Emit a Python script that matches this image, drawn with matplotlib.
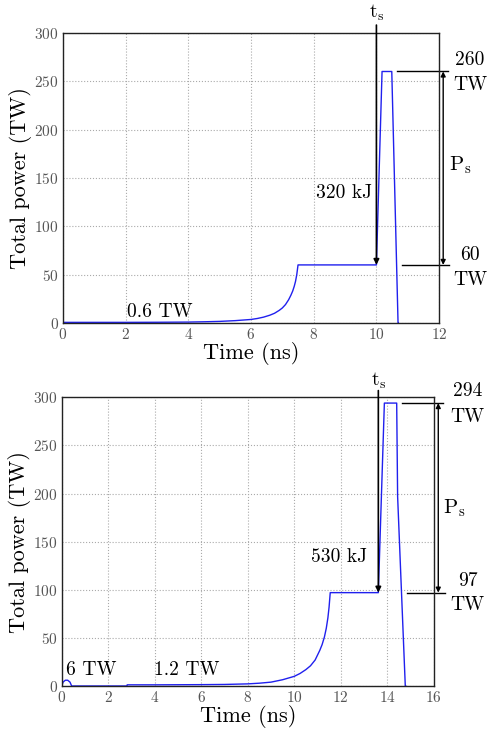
import matplotlib
matplotlib.use("Agg")
import matplotlib.pyplot as plt

plt.rcParams['font.family'] = 'serif'
plt.rcParams['font.serif'] = ['cmr10']
plt.rcParams['mathtext.fontset'] = 'cm'
plt.rcParams['axes.unicode_minus'] = False
plt.rcParams['axes.formatter.use_mathtext'] = True

# Panel (a)
t_a = [0, 1, 2, 3, 4, 4.5, 5, 5.25, 5.5, 5.75, 6, 6.2, 6.4, 6.6, 6.75, 6.9, 7.0, 7.1, 7.2,
       7.27, 7.33, 7.38, 7.42, 7.46, 7.5,
       10.0, 10.18, 10.49, 10.69, 10.7]
p_a = [0.6, 0.6, 0.6, 0.7, 0.9, 1.2, 1.6, 2.0, 2.4, 3.0, 3.6, 4.6, 6.0, 8.0, 10.0, 13.0, 15.5, 19, 24,
       28.5, 33, 38, 43, 50, 60,
       60, 260, 260, 0, 0]

# Panel (b)
t_b = [0, 0.05, 0.15, 0.25, 0.35, 0.42, 2.8, 2.81, 4, 5, 6, 7, 7.5, 8, 8.5, 9, 9.5, 10, 10.25,
       10.5, 10.7, 10.9, 11.0, 11.1, 11.2, 11.3, 11.38, 11.45, 11.5, 11.55,
       13.62, 13.88, 14.41, 14.45, 14.78, 14.8]
p_b = [0, 4, 6, 6, 4, 0, 0, 1.2, 1.2, 1.3, 1.4, 1.6, 1.9, 2.2, 2.9, 4, 6.5, 10, 13,
       17, 21, 27, 32, 37, 43, 51, 60, 71, 82, 97,
       97, 294, 294, 197, 0, 0]

fig = plt.figure(figsize=(4.99, 7.29), dpi=100)

def setup(ax, xmax):
    ax.set_xlim(0, xmax)
    ax.set_ylim(0, 300)
    ax.set_xticks(range(0, xmax + 1, 2))
    ax.set_yticks(range(0, 301, 50))
    ax.grid(True, linestyle=':', color='#aaaaaa', linewidth=0.8)
    ax.tick_params(direction='in', length=0, labelsize=11, colors='#555555', pad=3)
    for s in ax.spines.values():
        s.set_linewidth(1.0)
        s.set_color('#222222')
    ax.set_xlabel('Time (ns)', fontsize=16, labelpad=0)
    ax.set_ylabel('Total power (TW)', fontsize=16, labelpad=2)

def annot(ax, ts, plow, phigh, x1h, x2h, x1l, x2l, xarr, xtxt, ytxt_hi, ytxt_lo, xps, yps, yts, yarr):
    ax.annotate('', xy=(ts, plow), xytext=(ts, yarr), xycoords='data',
                arrowprops=dict(arrowstyle='-|>', color='black', lw=1.2, mutation_scale=8,
                                shrinkA=0, shrinkB=0), annotation_clip=False)
    ax.text(ts, yts, r'$\mathrm{t_s}$', ha='center', va='center', fontsize=14, clip_on=False)
    ax.plot([x1h, x2h], [phigh, phigh], color='black', lw=1.0, clip_on=False)
    ax.plot([x1l, x2l], [plow, plow], color='black', lw=1.0, clip_on=False)
    ax.annotate('', xy=(xarr, phigh), xytext=(xarr, plow),
                arrowprops=dict(arrowstyle='<|-|>', color='black', lw=1.0, mutation_scale=7,
                                shrinkA=0, shrinkB=0), annotation_clip=False)
    ax.text(xtxt, ytxt_hi[0], '%d' % phigh, ha='center', va='center', fontsize=14, clip_on=False)
    ax.text(xtxt, ytxt_hi[1], 'TW', ha='center', va='center', fontsize=14, clip_on=False)
    ax.text(xtxt, ytxt_lo[0], '%d' % plow, ha='center', va='center', fontsize=14, clip_on=False)
    ax.text(xtxt, ytxt_lo[1], 'TW', ha='center', va='center', fontsize=14, clip_on=False)
    ax.text(xps, yps, r'$\mathrm{P_s}$', ha='center', va='center', fontsize=15, clip_on=False)

ax1 = fig.add_axes([0.126, 0.557, 0.754, 0.398])
ax1.plot(t_a, p_a, color='#2020ee', lw=1.0)
setup(ax1, 12)
ax1.text(9.85, 134, '320 kJ', ha='right', va='center', fontsize=14)
ax1.text(2.05, 11, '0.6 TW', ha='left', va='center', fontsize=14)
annot(ax1, 10.0, 60, 260, 10.66, 12.29, 10.82, 12.32, 12.13, 12.99,
      (272, 246), (70, 44), 12.67, 163, 321, 308)

ax2 = fig.add_axes([0.124, 0.059, 0.745, 0.396])
ax2.plot(t_b, p_b, color='#2020ee', lw=1.0)
setup(ax2, 16)
ax2.text(13.12, 134, '530 kJ', ha='right', va='center', fontsize=14)
ax2.text(0.17, 16.5, '6 TW', ha='left', va='center', fontsize=14)
ax2.text(3.95, 16.5, '1.2 TW', ha='left', va='center', fontsize=14)
annot(ax2, 13.62, 97, 294, 14.62, 16.39, 14.84, 16.47, 16.2, 17.46,
      (306, 279), (109, 84), 16.9, 185, 317, 307)

fig.savefig('out.png', dpi=100)
